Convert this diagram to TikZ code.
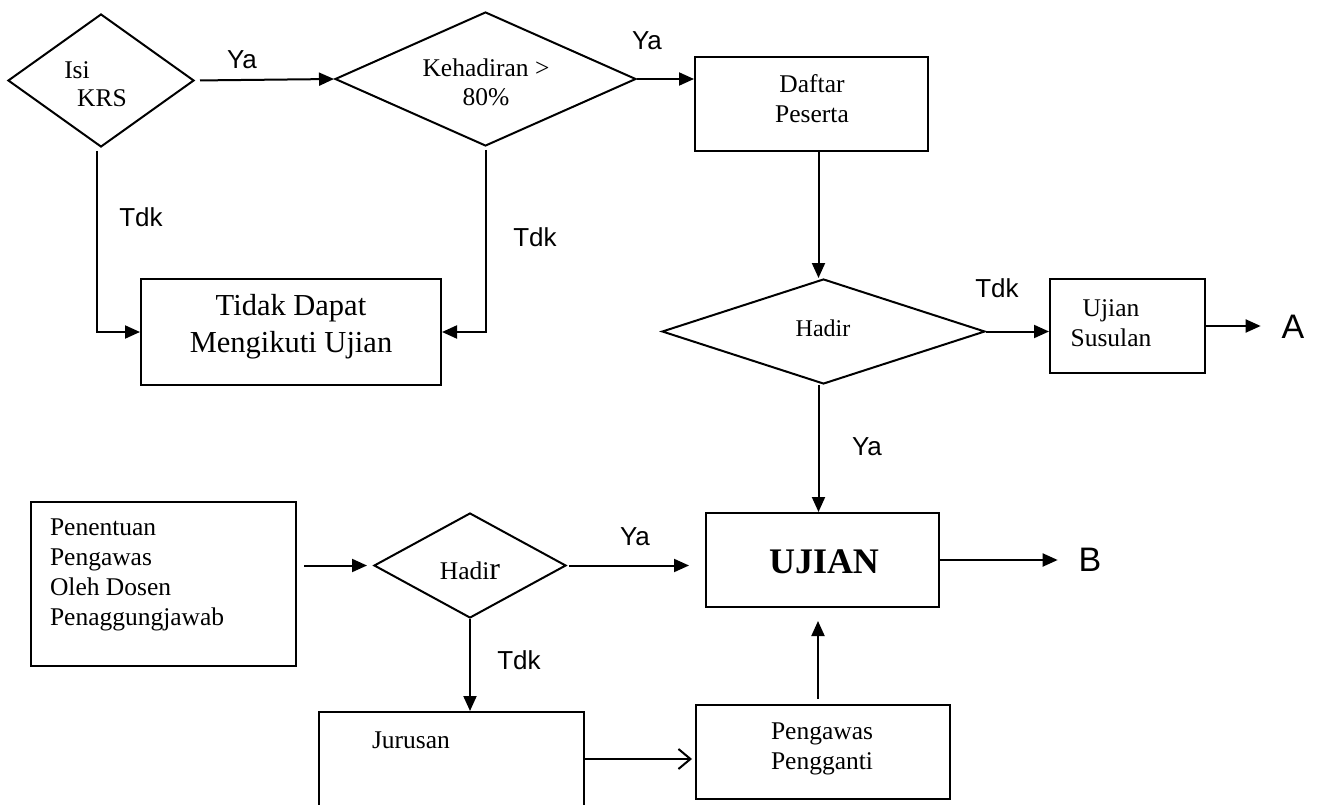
\documentclass[tikz,border=0pt]{standalone}
\usepackage{fontspec}
\setmainfont{Liberation Serif}
\newfontfamily\arialf{Liberation Sans}
\usetikzlibrary{arrows.meta,shapes.geometric}
\begin{document}
\begin{tikzpicture}[x=1pt,y=-1pt,line width=2pt,
  box/.style={draw,rectangle,inner sep=0pt},
  dia/.style={draw,diamond,inner sep=0pt},
  txt/.style={inner sep=0pt,font=\fontsize{25.5}{30}\selectfont,align=center},
  lbl/.style={inner sep=0pt,font=\arialf\fontsize{26}{26}\selectfont},
  bigl/.style={inner sep=0pt,font=\arialf\fontsize{34}{34}\selectfont},
  arr/.style={-{Triangle[length=15pt,width=13pt]}},
  oarr/.style={-{Straight Barb[length=12pt,width=20pt]}}]
\useasboundingbox (0,0) rectangle (1322,805);
\clip (0,0) rectangle (1322,805);

% decision shapes
\node[dia,minimum width=186pt,minimum height=133pt] (d1) at (101,80.5) {};
\node[dia,minimum width=301pt,minimum height=134pt] (d2) at (485.5,79) {};
\node[dia,minimum width=323pt,minimum height=105pt] (h1) at (823.5,331.5) {};
\node[dia,minimum width=192pt,minimum height=105pt] (h2) at (470,565.5) {};

% boxes
\node[box,minimum width=300pt,minimum height=106pt] (tidak) at (291,332) {};
\node[box,minimum width=233pt,minimum height=94pt] (daftar) at (811.5,104) {};
\node[box,minimum width=155pt,minimum height=94pt] (susulan) at (1127.5,326) {};
\node[box,minimum width=233pt,minimum height=94pt] (ujian) at (822.5,560) {};
\node[box,minimum width=265pt,minimum height=164pt] (pen) at (163.5,584) {};
\node[box,minimum width=265pt,minimum height=188pt] (jurusan) at (451.5,806) {};
\node[box,minimum width=254pt,minimum height=94pt] (pengawas) at (823,752) {};

% texts
\node[txt] (tisi) at (77,70) {Isi};
\node[txt] (tkrs) at (102,98) {KRS};
\node[txt,font=\fontsize{25.5}{29}\selectfont] (tkeh) at (486,82.5) {Kehadiran >\\80\%};
\node[txt] (tdaftar) at (812,99) {Daftar\\Peserta};
\node[txt,font=\fontsize{30.5}{37}\selectfont] (ttidak) at (291,327) {Tidak Dapat\\Mengikuti Ujian};
\node[txt,font=\fontsize{24}{24}\selectfont] (th1) at (823,328) {Hadir};
\node[txt] (tsus) at (1111,323) {Ujian\\Susulan};
\node[txt,font=\bfseries\fontsize{36}{36}\selectfont] (tujian) at (824,562) {UJIAN};
\node[txt,align=left,anchor=west] (tpen) at (49,575) {Penentuan\\Pengawas\\Oleh Dosen\\Penaggungjawab};
\node[txt] (th2) at (470,571) {Hadi{\fontsize{32}{32}\selectfont r}};
\node[txt] (tjur) at (411,740) {Jurusan};
\node[txt] (tpeng) at (822,749) {Pengawas\\Pengganti};

% labels
\node[lbl] (ya1) at (242,60) {Ya};
\node[lbl] (ya2) at (647,41) {Ya};
\node[lbl] (tdk1) at (141,217) {Tdk};
\node[lbl] (tdk2) at (535,237) {Tdk};
\node[lbl] (tdk3) at (997,288) {Tdk};
\node[lbl] (ya3) at (867,447) {Ya};
\node[lbl] (ya4) at (635,537) {Ya};
\node[lbl] (tdk4) at (519,660) {Tdk};
\node[bigl] (A) at (1293,327) {A};
\node[bigl] (B) at (1090,560) {B};

% connectors
\draw[arr,shorten <=5pt] (d1.east) -- (d2.west);
\draw[arr] (d2.east) -- (d2.east -| daftar.west);
\draw[arr,shorten <=3pt] ([xshift=-4pt]d1.south) |- (tidak.west);
\draw[arr,shorten <=3pt] (d2.south) |- (tidak.east);
\draw[arr] ([xshift=-5pt]daftar.south -| h1.north) -- ([xshift=-5pt]h1.north);
\draw[arr] (h1.east) -- (h1.east -| susulan.west);
\draw[arr,shorten >=20pt] (susulan.east) -- (susulan.east -| A.west);
\draw[arr] ([xshift=-5pt]h1.south) -- ([xshift=-5pt]h1.south |- ujian.north);
\draw[arr,shorten >=20pt] (ujian.east) -- (ujian.east -| B.west);
\draw[arr,shorten <=7pt,shorten >=6pt] (pen.east |- h2.west) -- (h2.west);
\draw[arr,shorten <=2pt,shorten >=16pt] (h2.east) -- (h2.east -| ujian.west);
\draw[arr] (h2.south) -- (h2.south |- jurusan.north);
\draw[oarr,shorten >=3pt] ([yshift=-7pt]jurusan.east |- pengawas.west) -- ([yshift=-7pt]pengawas.west);
\draw[arr,shorten <=5pt,shorten >=13pt] ([xshift=-5pt]pengawas.north) -- ([xshift=-5pt]pengawas.north |- ujian.south);
\end{tikzpicture}
\end{document}
